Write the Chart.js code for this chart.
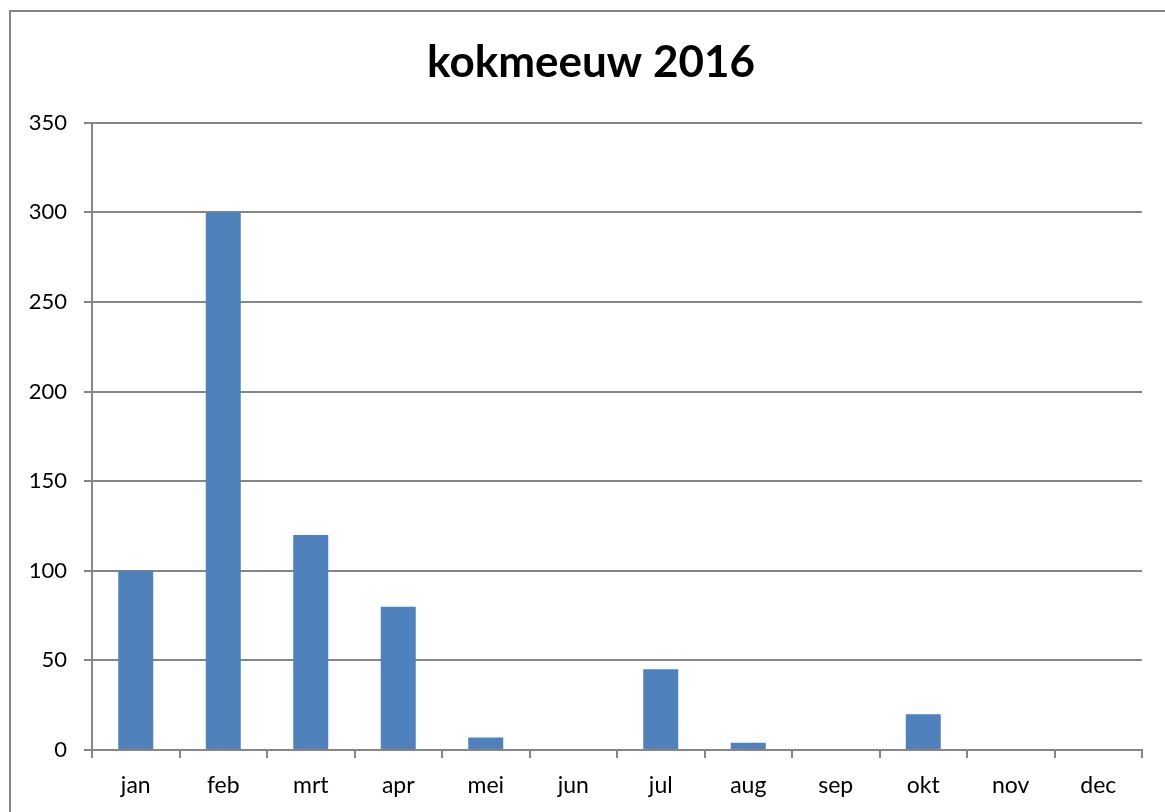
<!DOCTYPE html>
<html>
<head>
<meta charset="utf-8">
<script src="https://cdn.jsdelivr.net/npm/chart.js@4/dist/chart.umd.min.js"></script>
<style>
  html, body { margin: 0; padding: 0; background: #fff; overflow: hidden; }
  #wrap { position: relative; width: 1165px; height: 812px; }
</style>
</head>
<body>
<div id="wrap"><canvas id="grafico" width="1165" height="812"></canvas></div>
<script>
const maanden = ['jan', 'feb', 'mrt', 'apr', 'mei', 'jun', 'jul', 'aug', 'sep', 'okt', 'nov', 'dec'];
const aantallen = [100, 300, 120, 80, 7, 0, 45, 4, 0, 20, 0, 0];
const titel = 'kokmeeuw 2016';

const lijnKleur = '#868686';

// grey frame round the whole chart, as in the spreadsheet export
// and the title centred over the frame instead of the canvas
const kader = {
    id: 'kader',
    afterLayout(chart) {
        if (chart.titleBlock) {
            chart.titleBlock.left = 40;
        }
    },
    beforeDraw(chart) {
        const ctx = chart.ctx;
        ctx.save();
        ctx.strokeStyle = lijnKleur;
        ctx.lineWidth = 2;
        ctx.strokeRect(10, 11, 1300, 1000);
        ctx.restore();
    }
};

const ctx = document.getElementById('grafico').getContext('2d');
const grafiek = new Chart(ctx, {
    type: 'bar',
    data: {
        labels: maanden,
        datasets: [{
            label: titel,
            data: aantallen,
            backgroundColor: '#4F81BD',
            borderWidth: 0,
            barPercentage: 0.4,
            categoryPercentage: 1.0
        }]
    },
    options: {
        responsive: false,
        animation: false,
        layout: { padding: { left: 0, right: 23, top: 0, bottom: 0 } },
        plugins: {
            legend: { display: false },
            tooltip: { enabled: false },
            title: {
                display: true,
                text: titel,
                color: '#000',
                font: { family: 'Lato', size: 44, weight: 'bold' },
                padding: { top: 36, bottom: 34 }
            }
        },
        scales: {
            x: {
                grid: {
                    offset: true,
                    drawOnChartArea: false,
                    drawTicks: true,
                    tickLength: 8,
                    color: lijnKleur,
                    lineWidth: 2
                },
                border: { color: lijnKleur, width: 2 },
                ticks: {
                    color: '#000',
                    font: { family: 'Lato', size: 23 },
                    padding: 14,
                    maxRotation: 0
                },
                afterFit(scale) { scale.height = 62; }
            },
            y: {
                min: 0,
                max: 350,
                ticks: {
                    stepSize: 50,
                    color: '#000',
                    font: { family: 'Lato', size: 22 },
                    padding: 17
                },
                grid: {
                    color: lijnKleur,
                    lineWidth: 2,
                    tickLength: 8
                },
                border: { color: lijnKleur, width: 2 },
                afterFit(scale) { scale.width = 92; }
            }
        }
    },
    plugins: [kader]
});
</script>
</body>
</html>
